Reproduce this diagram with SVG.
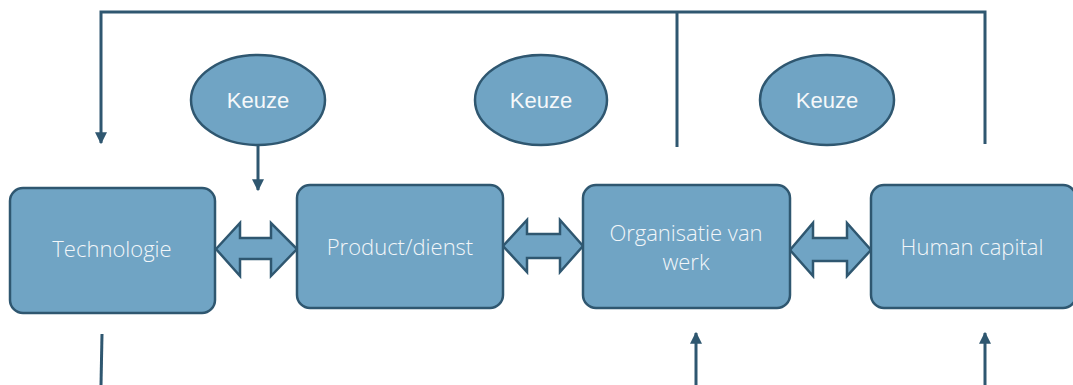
<svg xmlns="http://www.w3.org/2000/svg" width="1073" height="385" viewBox="0 0 1073 385">
  <style>
    .box { fill: #70a4c4; stroke: #2f5770; stroke-width: 2.5; }
    .oval { fill: #70a4c4; stroke: #2f5770; stroke-width: 2.5; }
    .dbl { fill: #70a4c4; stroke: #2f5770; stroke-width: 2.5; stroke-linejoin: miter; }
    .wire { fill: none; stroke: #2f5770; stroke-width: 3; }
    .lbl { font-family: "Open Sans", "Noto Sans", sans-serif; font-size: 22px; font-weight: 300; fill: #f2f6f9; text-anchor: middle; }
    .klbl { font-family: "Liberation Sans", Arial, sans-serif; font-size: 22px; fill: #f5f8fa; text-anchor: middle; }
  </style>
  <defs>
    <marker id="head" viewBox="0 0 10 10" refX="9" refY="5" markerWidth="4" markerHeight="4.5" orient="auto">
      <path d="M0,0 L10,5 L0,10 Z" fill="#2f5770"/>
    </marker>
  </defs>

  <g id="connectors">
    <!-- feedback loop along the top -->
    <polyline class="wire" points="985,144 985,12 101,12 101,143" marker-end="url(#head)"/>
    <line class="wire" x1="677" y1="12" x2="677" y2="147"/>
    <!-- choice into the first link -->
    <line class="wire" x1="258" y1="145" x2="258" y2="190" marker-end="url(#head)"/>
    <!-- lines from below -->
    <line class="wire" x1="102" y1="334" x2="101" y2="385"/>
    <line class="wire" x1="696" y1="385" x2="696" y2="333" marker-end="url(#head)"/>
    <line class="wire" x1="985" y1="385" x2="985" y2="333" marker-end="url(#head)"/>
    <!-- two-way links between the blocks -->
    <path class="dbl" d="M216,249 L240,223 L240,238 L271,238 L271,223 L297,249 L271,276 L271,259 L240,259 L240,276 Z"/>
    <path class="dbl" d="M503,246 L527,220 L527,234 L560,234 L560,220 L583,246 L560,272 L560,258 L527,258 L527,272 Z"/>
    <path class="dbl" d="M790,250 L813,223 L813,238 L847,238 L847,223 L871,250 L847,276 L847,261 L813,261 L813,276 Z"/>
  </g>

  <g id="keuze1">
    <ellipse class="oval" cx="258" cy="100" rx="67" ry="45"/>
    <text class="klbl" x="258" y="108">Keuze</text>
  </g>
  <g id="keuze2">
    <ellipse class="oval" cx="541" cy="100" rx="66" ry="45"/>
    <text class="klbl" x="541" y="108">Keuze</text>
  </g>
  <g id="keuze3">
    <ellipse class="oval" cx="827" cy="100" rx="67" ry="45"/>
    <text class="klbl" x="827" y="108">Keuze</text>
  </g>

  <g id="technologie">
    <rect class="box" x="10" y="188" width="205" height="125" rx="13"/>
    <text class="lbl" x="112" y="257">Technologie</text>
  </g>
  <g id="product">
    <rect class="box" x="297" y="185" width="206" height="123" rx="13"/>
    <text class="lbl" x="400" y="255">Product/dienst</text>
  </g>
  <g id="organisatie">
    <rect class="box" x="583" y="185" width="207" height="123" rx="13"/>
    <text class="lbl" x="686" y="241">Organisatie van</text>
    <text class="lbl" x="686" y="270">werk</text>
  </g>
  <g id="human">
    <rect class="box" x="871" y="185" width="205" height="123" rx="13"/>
    <text class="lbl" x="972" y="255">Human capital</text>
  </g>
</svg>
